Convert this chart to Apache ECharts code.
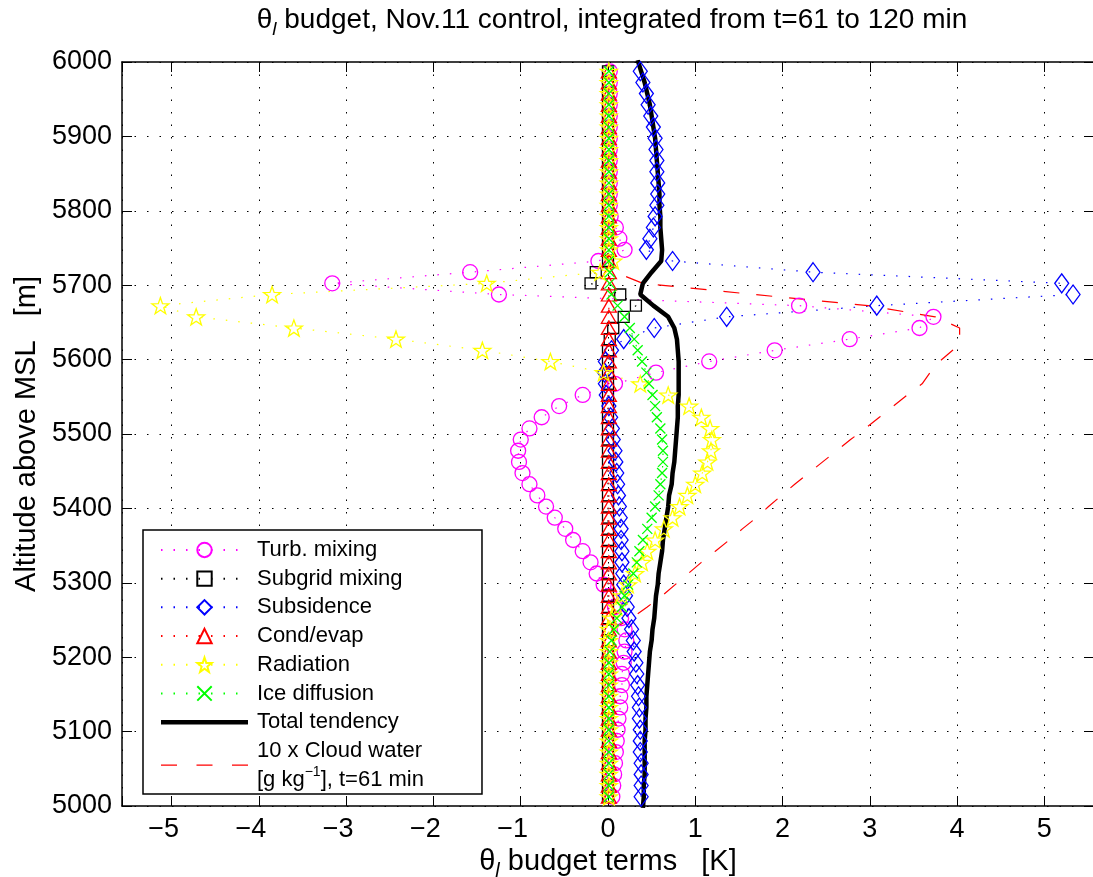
<!DOCTYPE html>
<html><head><meta charset="utf-8">
<script src="https://cdn.jsdelivr.net/npm/echarts@6/dist/echarts.min.js"></script>
<style>html,body{margin:0;padding:0;background:#fff}#c{width:1093px;height:877px}</style>
</head><body><div id="c"></div>
<script>
// Altitude levels [m]
const levels = [5012.5,5027.5,5042.5,5057.5,5072.5,5087.5,5102.5,5117.5,5132.5,5147.5,
5162.5,5177.5,5192.5,5207.5,5222.5,5237.5,5252.5,5267.5,5282.5,5297.5,
5312.5,5327.5,5342.5,5357.5,5372.5,5387.5,5402.5,5417.5,5432.5,5447.5,
5462.5,5477.5,5492.5,5507.5,5522.5,5537.5,5552.5,5567.5,5582.5,5597.5,
5612.5,5627.5,5642.5,5657.5,5672.5,5687.5,5702.5,5717.5,5732.5,5747.5,
5762.5,5777.5,5792.5,5807.5,5822.5,5837.5,5852.5,5867.5,5882.5,5897.5,
5912.5,5927.5,5942.5,5957.5,5972.5,5987.5];

const turbMixing = [0.05,0.06,0.07,0.08,0.09,0.10,0.11,0.12,0.14,0.14,
0.16,0.16,0.18,0.19,0.21,0.19,0.15,0.08,0.02,-0.05,
-0.13,-0.20,-0.29,-0.40,-0.49,-0.61,-0.71,-0.81,-0.90,-0.98,
-1.02,-1.03,-1.00,-0.90,-0.76,-0.56,-0.29,0.08,0.55,1.16,
1.91,2.77,3.57,3.73,2.19,-1.25,-3.16,-1.58,-0.11,0.19,
0.13,0.09,0.03,0.02,0.02,0.02,0.02,0.02,0.02,0.02,
0.02,0.02,0.02,0.02,0.02,0.02];

const subgridMixing = [0,0,0,0,0,0,0,0,0,0,
0,0,0,0,0,0,0,0,0,0,
0,0,0,0,0,0,0,0,0,0,
0,0,0,0,0,0,0,0,0,0,
0,0.02,0.06,0.18,0.32,0.14,-0.20,-0.14,0,0,
0,0,0,0,0,0,0,0,0,0,
0,0,0,0,0,0];

const subsidence = [0.38,0.38,0.38,0.38,0.37,0.37,0.37,0.36,0.36,0.35,
0.34,0.33,0.32,0.30,0.29,0.27,0.24,0.22,0.20,0.18,
0.17,0.16,0.16,0.15,0.15,0.14,0.13,0.12,0.11,0.10,
0.09,0.08,0.06,0.05,0.03,0.01,-0.02,-0.03,-0.04,-0.03,
0.04,0.18,0.53,1.36,3.08,5.33,5.20,2.35,0.74,0.44,
0.48,0.52,0.54,0.56,0.57,0.57,0.56,0.56,0.55,0.54,
0.52,0.49,0.46,0.44,0.40,0.37];

const condEvap = [0.01,0.01,0.01,0.01,0.01,0.01,0.01,0.01,0.01,0.01,
0.01,0.01,0.01,0.01,0.01,0.01,0.01,0.01,0.01,0.01,
0.01,0.01,0.01,0.01,0.01,0.01,0.01,0.01,0.01,0.01,
0.01,0.01,0.01,0.01,0.01,0.01,0.01,0.01,0.01,0.01,
0.01,0.01,0.01,0.01,0.01,0.01,0.01,0.01,0.01,0.01,
0.01,0.01,0.01,0.01,0.01,0.01,0.01,0.01,0.01,0.01,
0.01,0.01,0.01,0.01,0.01,0.01];

const radiation = [0.01,0.01,0.01,0.01,0.01,0.01,0.01,0.01,0.01,0.01,
0.01,0.01,0.01,0.01,0.01,0.01,0.04,0.10,0.16,0.23,
0.31,0.39,0.45,0.54,0.64,0.74,0.82,0.91,1.00,1.08,
1.14,1.18,1.19,1.17,1.07,0.93,0.69,0.37,-0.05,-0.66,
-1.44,-2.43,-3.60,-4.72,-5.13,-3.85,-1.39,-0.09,0.06,0.01,
0.01,0.01,0.01,0.01,0.01,0.01,0.01,0.01,0.01,0.01,
0.01,0.01,0.01,0.01,0.01,0.01];

const iceDiffusion = [0.01,0.01,0.01,0.01,0.01,0.01,0.01,0.01,0.01,0.01,
0.01,0.01,0.01,0.02,0.04,0.07,0.10,0.16,0.19,0.23,
0.29,0.33,0.36,0.40,0.45,0.50,0.54,0.58,0.60,0.62,
0.63,0.63,0.62,0.60,0.56,0.54,0.51,0.47,0.44,0.39,
0.34,0.30,0.25,0.19,0.11,0.04,0.02,0.02,0.01,0.01,
0.01,0.01,0.01,0.01,0.01,0.01,0.01,0.01,0.01,0.01,
0.01,0.01,0.01,0.01,0.01,0.01];

// Total tendency is drawn on the same levels plus the two edge levels
const totalLevels = [4997.5].concat(levels, [6002.5]);
const totalTendency = [0.40,
0.41,0.41,0.42,0.42,0.42,0.42,0.43,0.43,0.44,0.44,
0.45,0.46,0.47,0.48,0.50,0.51,0.53,0.54,0.55,0.57,
0.58,0.60,0.62,0.63,0.65,0.67,0.69,0.70,0.73,0.74,
0.76,0.77,0.78,0.79,0.80,0.80,0.81,0.81,0.81,0.81,
0.80,0.79,0.76,0.69,0.52,0.37,0.40,0.50,0.61,0.62,
0.61,0.60,0.60,0.59,0.59,0.58,0.57,0.56,0.55,0.54,
0.52,0.50,0.48,0.45,0.42,0.38,
0.34];

const cloudWater10 = [0,0,0,0,0,0,0,0,0,0,
0,0,0,0,0,0.05,0.27,0.45,0.62,0.77,
0.92,1.07,1.23,1.39,1.54,1.70,1.84,1.99,2.14,2.30,
2.46,2.62,2.78,2.95,3.11,3.27,3.43,3.60,3.69,3.80,
3.95,4.03,4.03,3.75,2.98,1.68,0.40,0.08,0,0,
0,0,0,0,0,0,0,0,0,0,
0,0,0,0,0,0];

const seriesNames = ['Turb. mixing','Subgrid mixing','Subsidence','Cond/evap','Radiation','Ice diffusion','Total tendency','10 x Cloud water'];
const xTicks = [-5,-4,-3,-2,-1,0,1,2,3,4,5];
const yTicks = [5000,5100,5200,5300,5400,5500,5600,5700,5800,5900,6000];

const FONT = 'Liberation Sans, Arial, Helvetica, sans-serif';
const STAR = 'path://M50,0L61.75,33.8L97.55,34.55L69,56.2L79.4,90.45L50,70L20.6,90.45L31,56.2L2.45,34.55L38.25,33.8Z';
const XMARK = 'path://M0,0L10,10M10,0L0,10';
const DOT = [1.5, 11];

function pts(vals, alts){ alts = alts || levels; return alts.map((z,i)=>[vals[i], z]); }
function marked(name, vals, color, symbol, size){
  return {
    type:'line', name, data: pts(vals), symbol, symbolSize: size, symbolKeepAspect: true,
    showSymbol: true, clip: true, silent: true,
    lineStyle: {color, width: 1.2, type: DOT},
    itemStyle: {color: 'rgba(0,0,0,0)', borderColor: color, borderWidth: 1.3},
    emphasis: {disabled: true}
  };
}

const chart = echarts.init(document.getElementById('c'), null, {renderer:'canvas'});
const fmtX = v => {
  if (Math.abs(v - Math.round(v)) > 1e-6) return '';
  const r = Math.round(v);
  if (!xTicks.includes(r)) return '';
  return r < 0 ? '{n|\u2212' + Math.abs(r) + '}' : '{p|' + r + '}';
};
const richLabel = (big, small) => ({
  a: {fontSize: big, fontFamily: FONT, color: '#000', lineHeight: big + 10},
  s: {fontSize: small, fontFamily: FONT, color: '#000', fontStyle: 'italic', verticalAlign: 'bottom', lineHeight: small}
});

chart.setOption({
  animation: false,
  backgroundColor: '#fff',
  title: {
    text: '{a|θ}{s|l}{a| budget, Nov.11 control, integrated from t=61 to 120 min}',
    left: 612, textAlign: 'center', top: 1, padding: 0,
    textStyle: {fontFamily: FONT, fontWeight: 'normal', color: '#000', rich: richLabel(28, 19)}
  },
  grid: {left: 122, top: 62, width: 972, height: 744, containLabel: false, outerBoundsMode: 'none', show: false},
  legend: {
    show: true, orient: 'vertical', left: 143, top: 530,
    padding: [5.6, 58, 0, 17],
    itemWidth: 87, itemHeight: 18, itemGap: 0,
    backgroundColor: '#fff', borderColor: '#000', borderWidth: 1.5, borderRadius: 0,
    selectedMode: false,
    textStyle: {fontFamily: FONT, fontSize: 22, color: '#000', lineHeight: 28.7, padding: [0,0,0,4],
      rich: {
        t: {fontFamily: FONT, fontSize: 22, color: '#000', lineHeight: 28.7},
        p: {fontFamily: FONT, fontSize: 14, color: '#000', verticalAlign: 'top', lineHeight: 15}
      }
    },
    formatter: n => n === '10 x Cloud water' ? '{t|10 x Cloud water}\n{t|[g kg}{p|\u22121}{t|], t=61 min}' : n,
    data: [
      {name: 'Turb. mixing'}, {name: 'Subgrid mixing'}, {name: 'Subsidence'}, {name: 'Cond/evap'},
      {name: 'Radiation'}, {name: 'Ice diffusion'},
      {name: 'Total tendency', icon: 'path://M0,0h87v4.5h-87z', itemStyle: {color: '#000', borderWidth: 0}},
      {name: '10 x Cloud water', icon: 'path://M0,0h16v1.3h-16zM35.5,0h16v1.3h-16zM71,0h16v1.3h-16z', itemStyle: {color: '#ff0000', borderWidth: 0}}
    ]
  },
  xAxis: [{
    type: 'value', position: 'bottom', min: -5.57, max: 5.57, splitNumber: 11, minInterval: 1, maxInterval: 1,
    axisLine: {show: true, onZero: false, lineStyle: {color: '#000', width: 1.5}},
    axisTick: {show: true, inside: true, length: 10, lineStyle: {color: '#000', width: 1}},
    axisLabel: {show: true, formatter: fmtX, fontFamily: FONT, fontSize: 27, color: '#000', margin: 10, hideOverlap: false,
      rich: {
        n: {fontFamily: FONT, fontSize: 27, color: '#000', padding: [0, 16, 0, 0]},
        p: {fontFamily: FONT, fontSize: 27, color: '#000'}
      }},
    splitLine: {show: true, lineStyle: {color: '#000', width: 1, type: DOT}},
    name: '{a|θ}{s|l}{a| budget terms   [K]}', nameLocation: 'middle', nameGap: 31,
    nameTextStyle: {fontFamily: FONT, color: '#000', rich: richLabel(29, 20)}
  }, {
    type: 'value', position: 'top', min: -5.57, max: 5.57, splitNumber: 11, minInterval: 1, maxInterval: 1,
    axisLine: {show: true, onZero: false, lineStyle: {color: '#000', width: 1.5}},
    axisTick: {show: true, inside: true, length: 10, lineStyle: {color: '#000', width: 1}},
    axisLabel: {show: false}, splitLine: {show: false}
  }],
  yAxis: [{
    type: 'value', position: 'left', min: 5000, max: 6000, interval: 100,
    axisLine: {show: true, onZero: false, lineStyle: {color: '#000', width: 1.5}},
    axisTick: {show: true, inside: true, length: 10, lineStyle: {color: '#000', width: 1}},
    axisLabel: {show: true, fontFamily: FONT, fontSize: 27, color: '#000', margin: 10,
      formatter: v => yTicks.includes(v) ? String(v) : ''},
    splitLine: {show: true, lineStyle: {color: '#000', width: 1, type: DOT}},
    name: 'Altitude above MSL   [m]', nameLocation: 'middle', nameGap: 78,
    nameTextStyle: {fontFamily: FONT, fontSize: 29, color: '#000'}
  }, {
    type: 'value', position: 'right', min: 5000, max: 6000, interval: 100,
    axisLine: {show: true, onZero: false, lineStyle: {color: '#000', width: 1.5}},
    axisTick: {show: true, inside: true, length: 10}, axisLabel: {show: false}, splitLine: {show: false}
  }],
  series: [
    marked('Turb. mixing', turbMixing, '#ff00ff', 'circle', 15),
    marked('Subgrid mixing', subgridMixing, '#000000', 'rect', 11),
    marked('Subsidence', subsidence, '#0000ff', 'diamond', [14, 19]),
    marked('Cond/evap', condEvap, '#ff0000', 'triangle', [15, 13]),
    marked('Radiation', radiation, '#ffff00', STAR, 17),
    marked('Ice diffusion', iceDiffusion, '#00ff00', XMARK, 10),
    {type: 'line', name: 'Total tendency', data: pts(totalTendency, totalLevels), symbol: 'none', showSymbol: false, clip: true, silent: true,
     lineStyle: {color: '#000', width: 4.5, type: 'solid'}, itemStyle: {color: '#000'}, emphasis: {disabled: true}},
    {type: 'line', name: '10 x Cloud water', data: pts(cloudWater10), symbol: 'none', showSymbol: false, clip: true, silent: true,
     lineStyle: {color: '#ff0000', width: 1.2, type: [16, 17]}, itemStyle: {color: '#ff0000'}, emphasis: {disabled: true}}
  ]
});
</script></body></html>
